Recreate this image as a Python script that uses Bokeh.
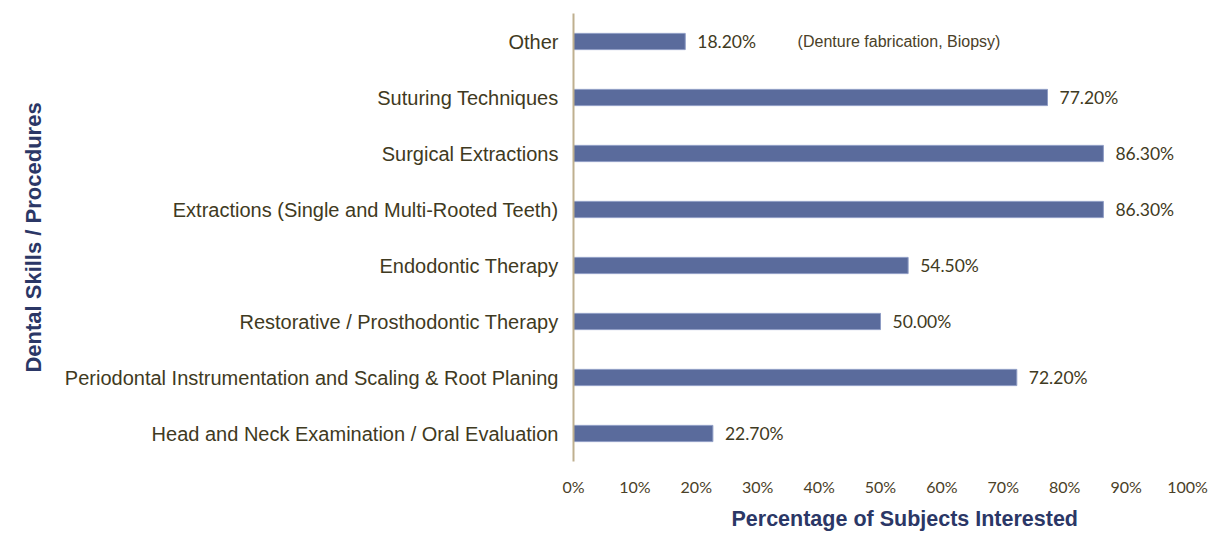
from bokeh.plotting import figure
from bokeh.models import FixedTicker, PrintfTickFormatter, ColumnDataSource, Title
from bokeh.core.properties import value
from bokeh.embed import file_html
from bokeh.resources import INLINE

categories = [
    "Head and Neck Examination / Oral Evaluation",
    "Periodontal Instrumentation and Scaling & Root Planing",
    "Restorative / Prosthodontic Therapy",
    "Endodontic Therapy",
    "Extractions (Single and Multi-Rooted Teeth)",
    "Surgical Extractions",
    "Suturing Techniques",
    "Other",
]
percentages = [22.7, 72.2, 50.0, 54.5, 86.3, 86.3, 77.2, 18.2]
value_labels = ["%.2f%%" % v for v in percentages]
x_ticks = [0, 10, 20, 30, 40, 50, 60, 70, 80, 90, 100]
note_text = "(Denture fabrication, Biopsy)"
note_x = 36.5

src = ColumnDataSource(dict(cat=categories, pct=percentages, lab=value_labels))

p = figure(width=1211, height=537, y_range=categories, x_range=(0, 100),
           output_backend="svg", toolbar_location=None,
           min_border_left=573, min_border_right=24, min_border_top=13, min_border_bottom=76)
p.outline_line_color = None
p.xgrid.visible = False
p.ygrid.visible = False
p.background_fill_color = "white"

p.hbar(y="cat", right="pct", left=0, height=0.29, source=src,
       fill_color="#5a6b9c", line_color="#8e9cc4", line_width=1)

p.text(x="pct", y="cat", text="lab", source=src, x_offset=12,
       text_baseline="middle", text_align="left",
       text_font=value("Lato"), text_font_size="17.5px", text_color="#3f3a22")

p.text(x=[note_x], y=["Other"], text=[note_text], text_baseline="middle",
       text_font=value("Liberation Sans"), text_font_size="16px", text_color="#4a4128")

# x axis
xa = p.xaxis[0]
xa.ticker = FixedTicker(ticks=x_ticks)
xa.formatter = PrintfTickFormatter(format="%d%%")
xa.axis_line_color = None
xa.major_tick_line_color = None
xa.minor_tick_line_color = None
xa.major_label_standoff = 9
xa.major_label_text_font = "Lato"
xa.major_label_text_font_size = "16px"
xa.major_label_text_color = "#4a4128"

# y axis
ya = p.yaxis[0]
ya.axis_line_color = "#bfb08f"
ya.axis_line_width = 2
ya.major_tick_line_color = None
ya.minor_tick_line_color = None
ya.major_label_standoff = 9
ya.major_label_text_font = "Liberation Sans"
ya.major_label_text_font_size = "20px"
ya.major_label_text_color = "#3f3a22"
ya.axis_label = "Dental Skills / Procedures"
ya.axis_label_text_font = "Liberation Sans"
ya.axis_label_text_font_style = "bold"
ya.axis_label_text_font_size = "22px"
ya.axis_label_text_color = "#2b3766"
ya.axis_label_standoff = 16

p.add_layout(Title(text="Percentage of Subjects Interested", align="left", offset=158,
                   standoff=13, text_font="Liberation Sans", text_font_style="bold",
                   text_font_size="21.5px", text_color="#2b3766"), "below")

open("out.html", "w").write(file_html(p, INLINE))
